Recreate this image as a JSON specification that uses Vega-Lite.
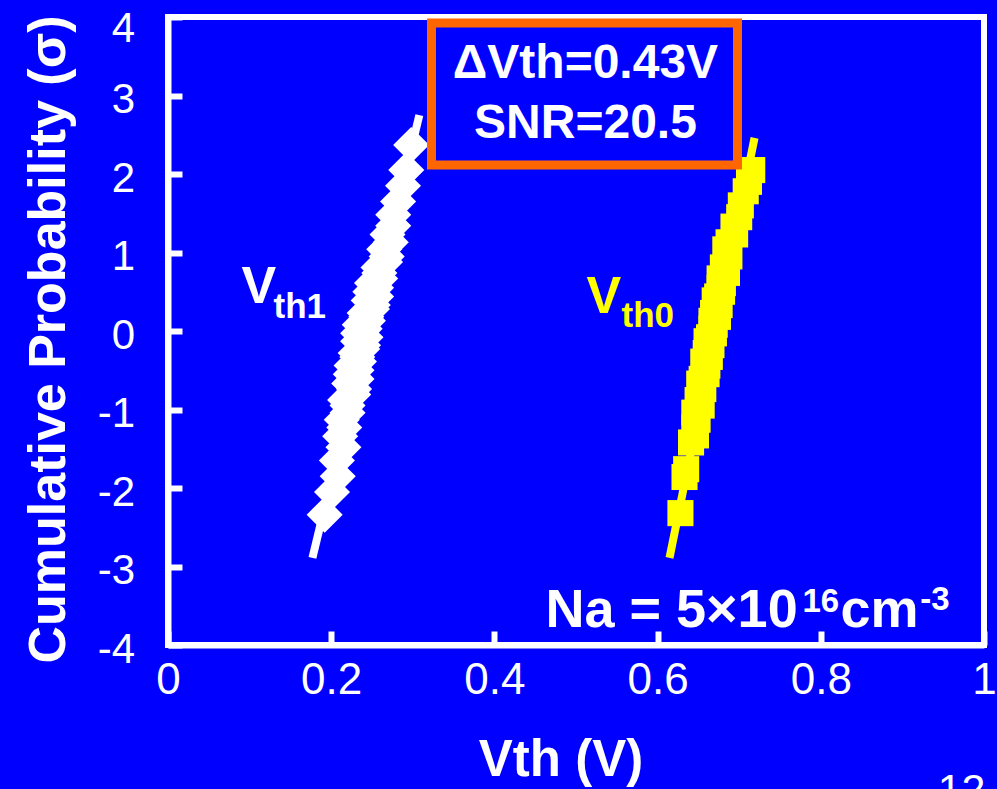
{
  "$schema": "https://vega.github.io/schema/vega-lite/v6.json",
  "autosize": "none",
  "padding": {"left": 168, "top": 17, "right": 13, "bottom": 144},
  "width": 816,
  "height": 628,
  "background": "#0000FF",
  "config": {
    "view": {"stroke": "#FFFFFF", "strokeWidth": 6},
    "axis": {
      "grid": false,
      "domainColor": "#FFFFFF",
      "domainWidth": 6,
      "tickColor": "#FFFFFF",
      "tickWidth": 6,
      "tickSize": -14,
      "labelFlush": false,
      "labelColor": "#FFFFFF",
      "labelFont": "Liberation Sans",
      "titleColor": "#FFFFFF",
      "titleFont": "Liberation Sans",
      "titleFontWeight": "bold",
      "titleFontSize": 51
    }
  },
  "datasets": {
    "fits": [
      {"series": "Vth1", "v": 0.177, "s": -2.89},
      {"series": "Vth1", "v": 0.308, "s": 2.75},
      {"series": "Vth0", "v": 0.6146, "s": -2.89},
      {"series": "Vth0", "v": 0.7188, "s": 2.46}
    ],
    "vth1": [
      {"s": -2.34, "v": 0.192}, {"s": -2.05, "v": 0.201}, {"s": -1.85, "v": 0.208}, {"s": -1.65, "v": 0.207},
      {"s": -1.48, "v": 0.215}, {"s": -1.34, "v": 0.211}, {"s": -1.23, "v": 0.216}, {"s": -1.13, "v": 0.213},
      {"s": -1.04, "v": 0.220}, {"s": -0.95, "v": 0.220}, {"s": -0.88, "v": 0.217}, {"s": -0.81, "v": 0.227},
      {"s": -0.74, "v": 0.228}, {"s": -0.67, "v": 0.222}, {"s": -0.61, "v": 0.231}, {"s": -0.55, "v": 0.224},
      {"s": -0.50, "v": 0.231}, {"s": -0.44, "v": 0.225}, {"s": -0.39, "v": 0.234}, {"s": -0.33, "v": 0.232},
      {"s": -0.28, "v": 0.230}, {"s": -0.23, "v": 0.238}, {"s": -0.18, "v": 0.239}, {"s": -0.13, "v": 0.233},
      {"s": -0.08, "v": 0.242}, {"s": -0.03, "v": 0.233}, {"s": 0.03, "v": 0.241}, {"s": 0.08, "v": 0.235},
      {"s": 0.13, "v": 0.245}, {"s": 0.18, "v": 0.243}, {"s": 0.23, "v": 0.241}, {"s": 0.28, "v": 0.250},
      {"s": 0.33, "v": 0.251}, {"s": 0.39, "v": 0.246}, {"s": 0.44, "v": 0.255}, {"s": 0.50, "v": 0.248},
      {"s": 0.55, "v": 0.255}, {"s": 0.61, "v": 0.250}, {"s": 0.67, "v": 0.260}, {"s": 0.74, "v": 0.259},
      {"s": 0.81, "v": 0.258}, {"s": 0.88, "v": 0.266}, {"s": 0.95, "v": 0.268}, {"s": 1.04, "v": 0.265},
      {"s": 1.13, "v": 0.273}, {"s": 1.23, "v": 0.269}, {"s": 1.34, "v": 0.276}, {"s": 1.48, "v": 0.276},
      {"s": 1.65, "v": 0.282}, {"s": 1.85, "v": 0.288}, {"s": 2.05, "v": 0.292}, {"s": 2.37, "v": 0.298}
    ],
    "vth0": [
      {"s": -2.32, "v": 0.628}, {"s": -1.86, "v": 0.633}, {"s": -1.76, "v": 0.635}, {"s": -1.42, "v": 0.641},
      {"s": -1.33, "v": 0.647}, {"s": -1.23, "v": 0.645}, {"s": -1.13, "v": 0.649}, {"s": -1.04, "v": 0.645},
      {"s": -0.95, "v": 0.654}, {"s": -0.88, "v": 0.649}, {"s": -0.81, "v": 0.653}, {"s": -0.74, "v": 0.656},
      {"s": -0.67, "v": 0.651}, {"s": -0.61, "v": 0.654}, {"s": -0.55, "v": 0.660}, {"s": -0.50, "v": 0.657},
      {"s": -0.44, "v": 0.661}, {"s": -0.39, "v": 0.656}, {"s": -0.33, "v": 0.664}, {"s": -0.28, "v": 0.659},
      {"s": -0.23, "v": 0.663}, {"s": -0.18, "v": 0.666}, {"s": -0.13, "v": 0.660}, {"s": -0.08, "v": 0.663},
      {"s": -0.03, "v": 0.669}, {"s": 0.03, "v": 0.666}, {"s": 0.08, "v": 0.670}, {"s": 0.13, "v": 0.666},
      {"s": 0.18, "v": 0.674}, {"s": 0.23, "v": 0.668}, {"s": 0.28, "v": 0.673}, {"s": 0.33, "v": 0.676},
      {"s": 0.39, "v": 0.670}, {"s": 0.44, "v": 0.673}, {"s": 0.50, "v": 0.679}, {"s": 0.55, "v": 0.676},
      {"s": 0.61, "v": 0.680}, {"s": 0.67, "v": 0.676}, {"s": 0.74, "v": 0.685}, {"s": 0.81, "v": 0.680},
      {"s": 0.88, "v": 0.684}, {"s": 0.95, "v": 0.688}, {"s": 1.04, "v": 0.683}, {"s": 1.13, "v": 0.687},
      {"s": 1.23, "v": 0.695}, {"s": 1.33, "v": 0.693}, {"s": 1.45, "v": 0.700}, {"s": 1.60, "v": 0.702},
      {"s": 1.78, "v": 0.708}, {"s": 1.90, "v": 0.712}, {"s": 2.05, "v": 0.716}
    ],
    "bigV": [
      {"t": "V", "series": "Vth1", "v": 0.0901, "s": 0.357},
      {"t": "V", "series": "Vth0", "v": 0.5129, "s": 0.229}
    ],
    "subs": [
      {"t": "th1", "series": "Vth1", "v": 0.1293, "s": 0.166},
      {"t": "th0", "series": "Vth0", "v": 0.5558, "s": 0.051}
    ],
    "box": [
      {"v1": 0.3229, "v2": 0.6979, "s1": 3.924, "s2": 2.115}
    ],
    "boxText": [
      {"t": "ΔVth=0.43V", "v": 0.5116, "s": 3.223},
      {"t": "SNR=20.5", "v": 0.5116, "s": 2.459}
    ],
    "naMain": [
      {"t": "Na = 5×10", "v": 0.4626, "s": -3.771},
      {"t": "cm", "v": 0.8241, "s": -3.771}
    ],
    "naSup": [
      {"t": "16", "v": 0.7776, "s": -3.580},
      {"t": "-3", "v": 0.9218, "s": -3.554}
    ],
    "page": [
      {"t": "12", "v": 1.0018, "s": -6.025}
    ]
  },
  "encoding": {
    "x": {
      "field": "v", "type": "quantitative",
      "scale": {"domain": [0, 1], "nice": false, "zero": false},
      "axis": {
        "title": "Vth (V)",
        "values": [0, 0.2, 0.4, 0.6, 0.8, 1],
        "labelExpr": "'' + datum.value",
        "labelFontSize": 44,
        "labelPadding": 27,
        "titleX": 392.5,
        "titleY": 130,
        "titleAlign": "center",
        "titleBaseline": "alphabetic"
      }
    },
    "y": {
      "field": "s", "type": "quantitative",
      "scale": {"domain": [-4, 4], "nice": false, "zero": false},
      "axis": {
        "title": "Cumulative Probability (σ)",
        "values": [-4, -3, -2, -1, 0, 1, 2, 3, 4],
        "labelExpr": "'' + datum.value",
        "labelFontSize": 42,
        "labelPadding": 47.5,
        "labelOffset": {"condition": {"test": "datum.value == 4", "value": 11}, "value": 4},
        "titleFontSize": 52,
        "titleAngle": 270,
        "titleX": -104,
        "titleY": 322,
        "titleAlign": "center",
        "titleBaseline": "alphabetic"
      }
    }
  },
  "layer": [
    {
      "data": {"name": "fits"},
      "mark": {"type": "line", "strokeWidth": 8},
      "encoding": {
        "detail": {"field": "series"},
        "color": {"field": "series", "type": "nominal", "scale": {"domain": ["Vth1", "Vth0"], "range": ["#FFFFFF", "#FFFF00"]}, "legend": null}
      }
    },
    {
      "data": {"name": "vth1"},
      "mark": {"type": "point", "shape": "diamond", "filled": true, "opacity": 1, "size": 1300, "color": "#FFFFFF"}
    },
    {
      "data": {"name": "vth0"},
      "mark": {"type": "point", "shape": "square", "filled": true, "opacity": 1, "size": 680, "color": "#FFFF00"}
    },
    {
      "data": {"name": "bigV"},
      "mark": {"type": "text", "font": "Liberation Sans", "fontWeight": "bold", "fontSize": 52, "align": "left", "baseline": "alphabetic"},
      "encoding": {
        "text": {"field": "t"},
        "color": {"field": "series", "type": "nominal", "scale": {"domain": ["Vth1", "Vth0"], "range": ["#FFFFFF", "#FFFF00"]}, "legend": null}
      }
    },
    {
      "data": {"name": "subs"},
      "mark": {"type": "text", "font": "Liberation Sans", "fontWeight": "bold", "fontSize": 35, "align": "left", "baseline": "alphabetic"},
      "encoding": {
        "text": {"field": "t"},
        "color": {"field": "series", "type": "nominal", "scale": {"domain": ["Vth1", "Vth0"], "range": ["#FFFFFF", "#FFFF00"]}, "legend": null}
      }
    },
    {
      "data": {"name": "box"},
      "mark": {"type": "rect", "fill": "#0000FF", "stroke": "#FF6600", "strokeWidth": 9},
      "encoding": {
        "x": {"field": "v1", "type": "quantitative"},
        "x2": {"field": "v2"},
        "y": {"field": "s1", "type": "quantitative"},
        "y2": {"field": "s2"}
      }
    },
    {
      "data": {"name": "boxText"},
      "mark": {"type": "text", "font": "Liberation Sans", "fontWeight": "bold", "fontSize": 48, "align": "center", "baseline": "alphabetic", "color": "#FFFFFF"},
      "encoding": {"text": {"field": "t"}}
    },
    {
      "data": {"name": "naMain"},
      "mark": {"type": "text", "font": "Liberation Sans", "fontWeight": "bold", "fontSize": 54, "align": "left", "baseline": "alphabetic", "color": "#FFFFFF"},
      "encoding": {"text": {"field": "t"}}
    },
    {
      "data": {"name": "naSup"},
      "mark": {"type": "text", "font": "Liberation Sans", "fontWeight": "bold", "fontSize": 33, "align": "left", "baseline": "alphabetic", "color": "#FFFFFF"},
      "encoding": {"text": {"field": "t"}}
    },
    {
      "data": {"name": "page"},
      "mark": {"type": "text", "font": "Liberation Sans", "fontSize": 43, "align": "right", "baseline": "alphabetic", "color": "#FFFFFF"},
      "encoding": {"text": {"field": "t"}}
    }
  ]
}
